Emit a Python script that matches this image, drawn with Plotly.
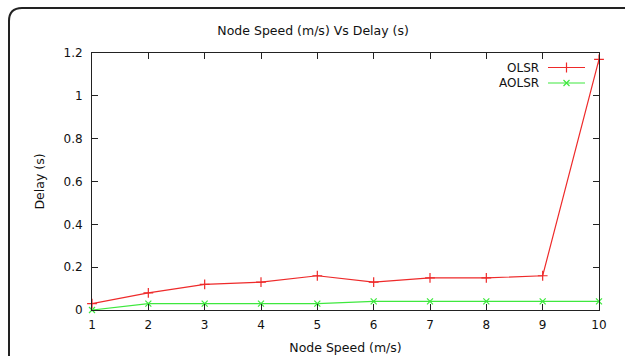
import plotly.graph_objects as go

speed = [1, 2, 3, 4, 5, 6, 7, 8, 9, 10]
olsr = [0.03, 0.08, 0.12, 0.13, 0.16, 0.13, 0.15, 0.15, 0.16, 1.17]
aolsr = [0.0, 0.03, 0.03, 0.03, 0.03, 0.04, 0.04, 0.04, 0.04, 0.04]
x_ticks = list(range(1, 11))
y_ticks = [0, 0.2, 0.4, 0.6, 0.8, 1, 1.2]
y_tick_text = ["0", "0.2", "0.4", "0.6", "0.8", "1", "1.2"]

RED = "#ee2a2a"
GREEN = "#3ee83e"
FONT = "DejaVu Sans"

W, H = 625, 356
ML, MR, MT, MB = 92, 26, 53, 46
PW, PH = W - ML - MR, H - MT - MB


def px(x):
    return (x - ML) / PW


def py(y):
    return (H - MB - y) / PH


fig = go.Figure()
fig.add_trace(go.Scatter(x=speed, y=olsr, mode="lines+markers", name="OLSR",
                         line=dict(color=RED, width=1.2),
                         marker=dict(symbol="cross-thin", size=7,
                                     line=dict(color=RED, width=1.2)),
                         cliponaxis=False, showlegend=False))
fig.add_trace(go.Scatter(x=speed, y=aolsr, mode="lines+markers", name="AOLSR",
                         line=dict(color=GREEN, width=1.2),
                         marker=dict(symbol="x-thin", size=6,
                                     line=dict(color=GREEN, width=1.2)),
                         cliponaxis=False, showlegend=False))

# custom gnuplot-style legend (text then sample)
legend_items = [("OLSR", RED, "cross-thin", 7, 67.5), ("AOLSR", GREEN, "x-thin", 6, 83)]
for name, col, sym, sz, yy in legend_items:
    fig.add_annotation(x=px(541), y=py(yy), xref="paper", yref="paper",
                       text=name, showarrow=False, xanchor="right", yanchor="middle",
                       font=dict(family=FONT, size=12, color="#111"))
    fig.add_shape(type="line", xref="paper", yref="paper",
                  x0=px(548), x1=px(585), y0=py(yy), y1=py(yy),
                  line=dict(color=col, width=1.2))
    fig.add_trace(go.Scatter(x=[px(566.5)], y=[py(yy)], xaxis="x2", yaxis="y2",
                             mode="markers", showlegend=False, hoverinfo="skip",
                             marker=dict(symbol=sym, size=sz,
                                         line=dict(color=col, width=1.2)),
                             cliponaxis=False))

# rounded outer frame
frame = (f"M {px(9)},{py(370)} L {px(9)},{py(21)} "
         f"Q {px(9)},{py(8)} {px(22)},{py(8)} L {px(640)},{py(8)}")
fig.add_shape(type="path", path=frame, xref="paper", yref="paper",
              line=dict(color="#222", width=2))

axis_common = dict(showline=True, linecolor="#222", linewidth=1, mirror="ticks",
                   ticks="inside", ticklen=6, tickcolor="#222", showgrid=False,
                   zeroline=False, automargin=False,
                   tickfont=dict(family=FONT, size=12, color="#111"))

fig.update_layout(
    width=W, height=H,
    margin=dict(l=ML, r=MR, t=MT, b=MB),
    paper_bgcolor="white", plot_bgcolor="white",
    title=dict(text="Node Speed (m/s) Vs Delay (s)", x=px(346), xanchor="center",
               y=1 - 31 / H, yanchor="middle",
               font=dict(family=FONT, size=12.5, color="#111")),
    xaxis=dict(range=[1, 10], tickvals=x_ticks, ticktext=[str(v) for v in x_ticks],
               ticklabelstandoff=4,
               title=dict(text="Node Speed (m/s)", standoff=11,
                          font=dict(family=FONT, size=12.5, color="#111")),
               **axis_common),
    yaxis=dict(range=[0, 1.2], tickvals=y_ticks, ticktext=y_tick_text,
               ticklabelstandoff=6,
               title=dict(text="Delay (s)", standoff=16,
                          font=dict(family=FONT, size=12.5, color="#111")),
               **axis_common),
    xaxis2=dict(range=[0, 1], overlaying="x", visible=False, fixedrange=True),
    yaxis2=dict(range=[0, 1], overlaying="y", visible=False, fixedrange=True),
)

fig.write_html("out.html")
